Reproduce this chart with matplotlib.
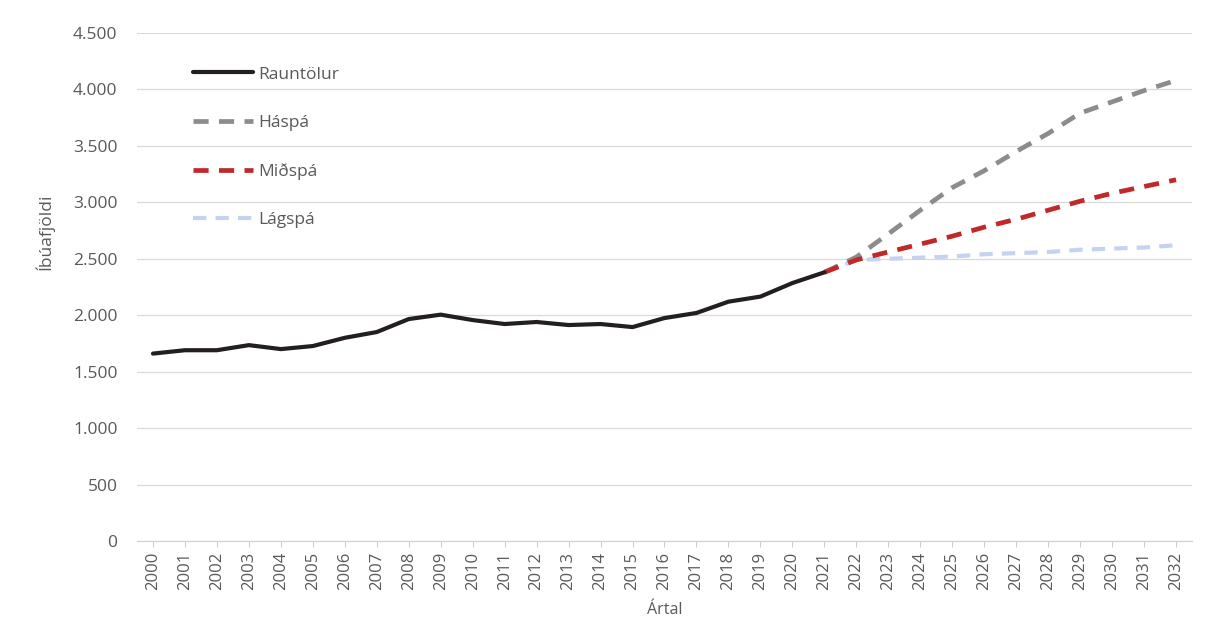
import matplotlib
matplotlib.use("Agg")
import matplotlib.pyplot as plt
from matplotlib.ticker import FuncFormatter

# Íbúafjöldi - rauntölur og spár
ar_raun = list(range(2000, 2022))
raun = [1660, 1690, 1690, 1735, 1700, 1727, 1800, 1851, 1966, 2005, 1957, 1922,
        1940, 1913, 1922, 1895, 1975, 2020, 2120, 2165, 2285, 2380]

ar_spa = list(range(2021, 2033))
haspa = [2380, 2515, 2720, 2930, 3130, 3280, 3450, 3610, 3790, 3890, 3990, 4080]
midspa = [2380, 2490, 2560, 2630, 2700, 2780, 2850, 2930, 3010, 3080, 3140, 3200]
lagspa = [2380, 2490, 2500, 2510, 2520, 2540, 2550, 2560, 2580, 2590, 2600, 2620]

plt.rcParams["font.family"] = ["Open Sans", "DejaVu Sans"]
grar = "#595959"

fig = plt.figure(figsize=(12.17, 6.43), dpi=100)
ax = fig.add_axes([137 / 1217, 1 - 541 / 643, (1192 - 137) / 1217, (541 - 33) / 643])

ax.plot(ar_spa, lagspa, color="#c5d3f0", lw=3, dashes=(3.2, 2.2), label="Lágspá", zorder=3)
ax.plot(ar_spa, haspa, color="#8c8c8c", lw=3.4, dashes=(3.2, 2.2), label="Háspá", zorder=3)
ax.plot(ar_spa, midspa, color="#c0282a", lw=3.4, dashes=(3.2, 2.2), label="Miðspá", zorder=4)
ax.plot(ar_raun, raun, color="#231f20", lw=3, label="Rauntölur", zorder=5,
        solid_capstyle="round", solid_joinstyle="round")

ax.set_xlim(1999.5, 2032.5)
ax.set_ylim(0, 4500)
ax.set_yticks(range(0, 4501, 500))
ax.yaxis.set_major_formatter(FuncFormatter(lambda v, p: f"{int(v):,}".replace(",", ".")))
ax.set_xticks(range(2000, 2033))
ax.set_xticklabels([str(a) for a in range(2000, 2033)], rotation=90)

ax.grid(axis="y", color="#d9d9d9", lw=0.9)
ax.set_axisbelow(True)
for s in ["top", "right", "left"]:
    ax.spines[s].set_visible(False)
ax.spines["bottom"].set_color("#d0d0d0")
ax.tick_params(axis="y", length=0, labelsize=12.5, labelcolor=grar, pad=14)
ax.tick_params(axis="x", length=4, color="#d0d0d0", labelsize=12, labelcolor=grar, pad=4)

ax.set_ylabel("Íbúafjöldi", color=grar, fontsize=12.5)
ax.yaxis.set_label_coords(-0.078, 0.608)
ax.set_xlabel("Ártal", color=grar, fontsize=11.5, labelpad=8)

h, l = ax.get_legend_handles_labels()
order = [3, 1, 2, 0]
leg = ax.legend([h[i] for i in order], [l[i] for i in order], loc="upper left",
                bbox_to_anchor=(0.038, 0.965), frameon=False, fontsize=12.5,
                labelcolor=grar, handlelength=3.5, handletextpad=0.25, labelspacing=1.85)

fig.savefig("out.png", dpi=100)
